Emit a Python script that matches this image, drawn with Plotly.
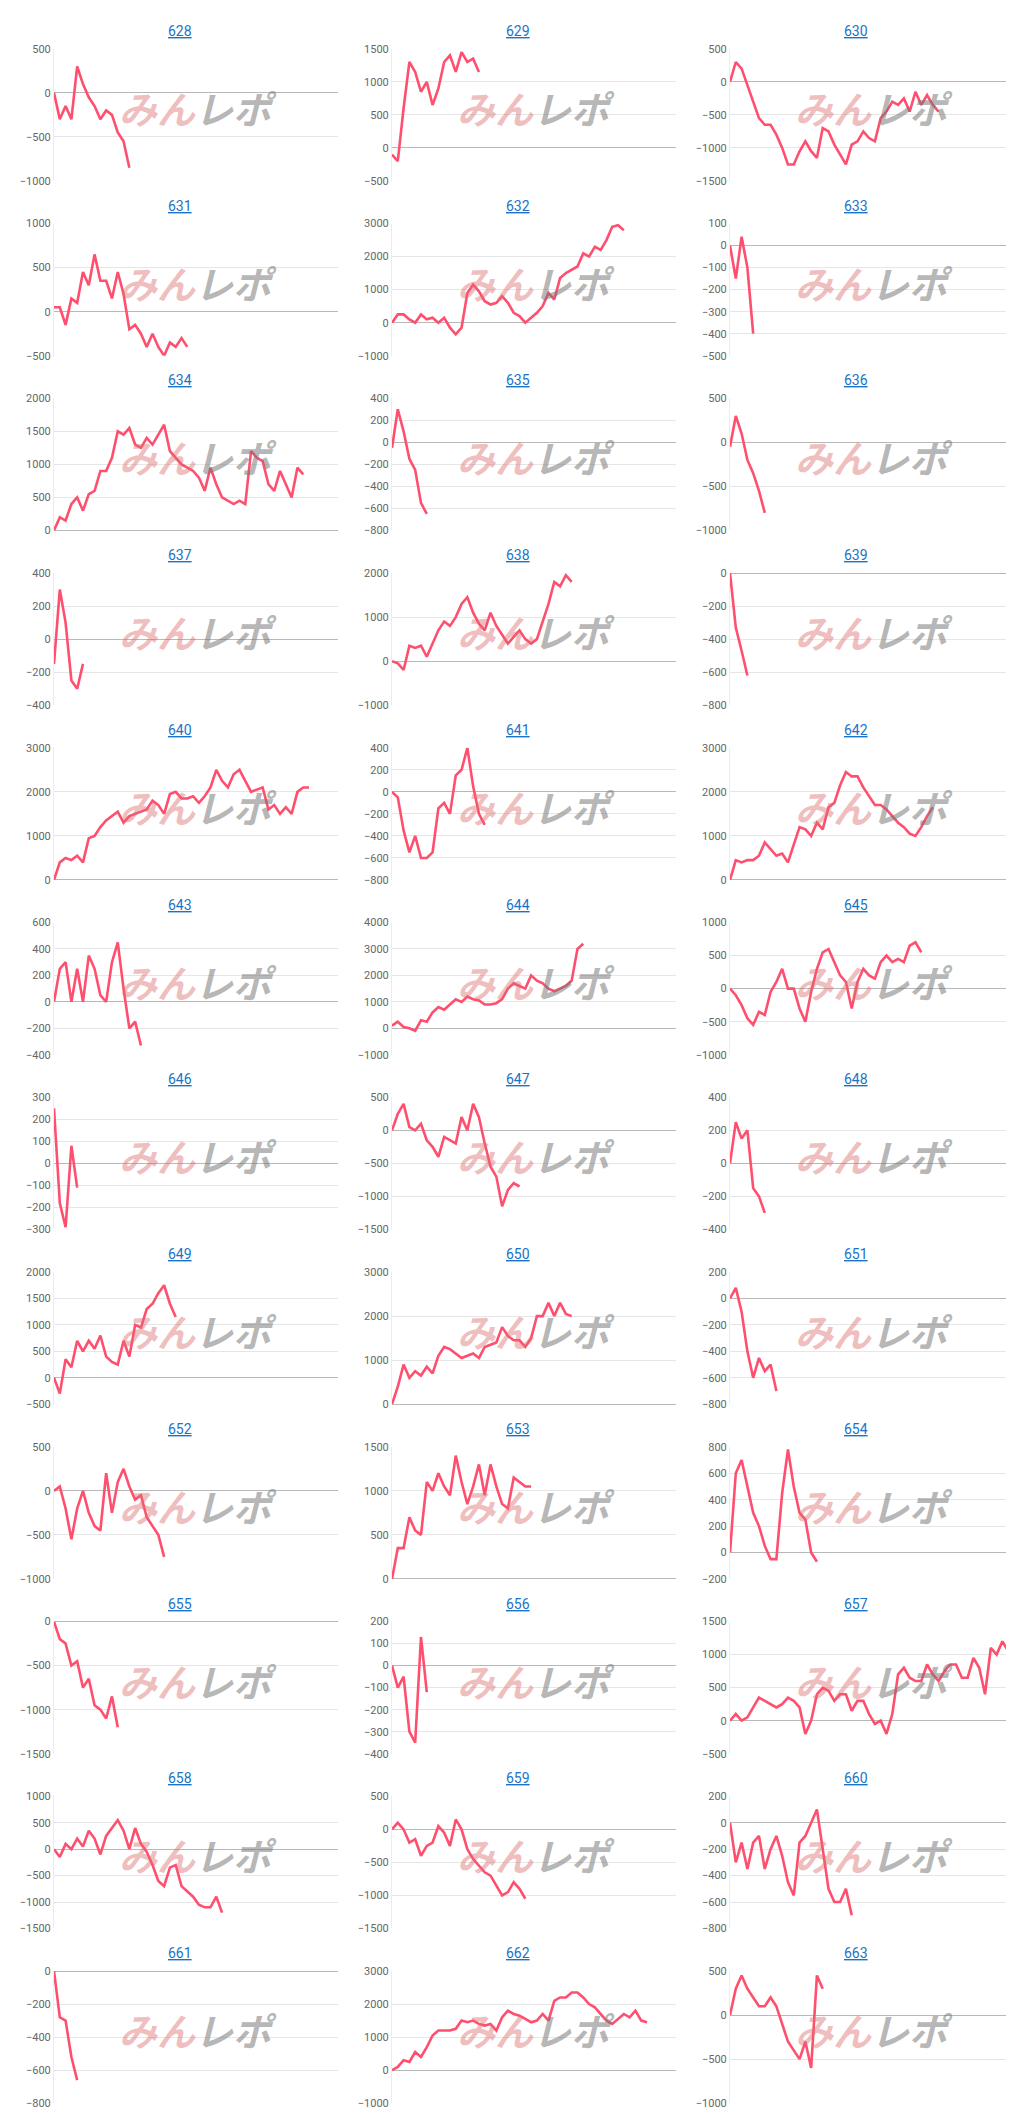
import plotly.graph_objects as go

# panel ids (chart titles)
panel_ids = list(range(628, 664))

# y axis: [min, max, tick step] for each panel
y_axes = [
    [-1000, 500, 500], [-500, 1500, 500], [-1500, 500, 500],
    [-500, 1000, 500], [-1000, 3000, 1000], [-500, 100, 100],
    [0, 2000, 500], [-800, 400, 200], [-1000, 500, 500],
    [-400, 400, 200], [-1000, 2000, 1000], [-800, 0, 200],
    [0, 3000, 1000], [-800, 400, 200], [0, 3000, 1000],
    [-400, 600, 200], [-1000, 4000, 1000], [-1000, 1000, 500],
    [-300, 300, 100], [-1500, 500, 500], [-400, 400, 200],
    [-500, 2000, 500], [0, 3000, 1000], [-800, 200, 200],
    [-1000, 500, 500], [0, 1500, 500], [-200, 800, 200],
    [-1500, 0, 500], [-400, 200, 100], [-500, 1500, 500],
    [-1500, 1000, 500], [-1500, 500, 500], [-800, 200, 200],
    [-800, 0, 200], [-1000, 3000, 1000], [-1000, 500, 500],
]

s628 = [0, -300, -150, -300, 300, 100, -50, -150, -300, -200, -250, -450, -550, -850]
s629 = [-100, -200, 600, 1300, 1150, 850, 1000, 650, 900, 1300, 1400, 1150, 1450, 1300, 1350, 1150]
s630 = [0, 300, 200, -50, -300, -550, -650, -650, -800, -1000, -1250, -1250, -1050, -900, -1050, -1150,
        -700, -750, -950, -1100, -1250, -950, -900, -750, -850, -900, -550, -450, -300, -350, -250, -450,
        -150, -350, -200, -350, -450]
s631 = [50, 50, -150, 150, 100, 450, 300, 650, 350, 350, 150, 450, 200, -200, -150, -250, -400, -250,
        -400, -500, -350, -400, -300, -400]
s632 = [0, 250, 250, 100, 0, 250, 100, 150, 0, 150, -150, -350, -150, 900, 1150, 950, 650, 550, 600, 800,
        600, 300, 200, 0, 150, 300, 500, 900, 700, 1350, 1500, 1600, 1700, 2100, 2000, 2300, 2200, 2500,
        2900, 2950, 2800]
s633 = [0, -150, 40, -100, -400]
s634 = [0, 200, 150, 400, 500, 300, 550, 600, 900, 900, 1100, 1500, 1450, 1550, 1300, 1250, 1400, 1300,
        1450, 1600, 1200, 1100, 1000, 950, 900, 800, 600, 950, 700, 500, 450, 400, 450, 400, 1200, 1100,
        1050, 700, 600, 900, 700, 500, 950, 850]
s635 = [-50, 300, 100, -150, -250, -550, -650]
s636 = [-50, 300, 100, -200, -350, -550, -800]
s637 = [-150, 300, 100, -250, -300, -150]
s638 = [0, -50, -200, 350, 300, 350, 100, 400, 700, 900, 800, 1000, 1300, 1450, 1100, 850, 700, 1100,
        800, 600, 400, 550, 700, 500, 400, 500, 900, 1300, 1800, 1700, 1950, 1800]
s639 = [0, -330, -470, -620]
s640 = [0, 400, 500, 450, 550, 400, 950, 1000, 1200, 1350, 1450, 1550, 1300, 1450, 1500, 1550, 1600,
        1800, 1700, 1500, 1950, 2000, 1850, 1850, 1900, 1750, 1900, 2100, 2500, 2250, 2100, 2400, 2500,
        2250, 2000, 2050, 2100, 1600, 1700, 1500, 1650, 1500, 2000, 2100, 2100]
s641 = [0, -50, -350, -550, -400, -600, -600, -550, -150, -100, -200, 150, 200, 400, 50, -200, -300]
s642 = [0, 450, 400, 450, 450, 550, 850, 700, 550, 600, 400, 800, 1200, 1150, 1000, 1300, 1150, 1650,
        1750, 2150, 2450, 2350, 2350, 2100, 1900, 1700, 1700, 1600, 1450, 1300, 1200, 1050, 1000, 1200,
        1450, 1650]
s643 = [0, 250, 300, 0, 250, 0, 350, 250, 50, 0, 300, 450, 100, -200, -150, -330]
s644 = [100, 250, 50, 0, -100, 300, 250, 600, 800, 700, 900, 1100, 1000, 1200, 1100, 1050, 900, 900,
        950, 1100, 1500, 1700, 1600, 1500, 2000, 1800, 1700, 1500, 1400, 1500, 1600, 1800, 3000, 3200]
s645 = [0, -100, -250, -450, -550, -350, -400, -50, 100, 300, 0, 0, -300, -500, -50, 300, 550, 600, 400,
        200, 100, -300, 100, 300, 200, 150, 400, 500, 400, 450, 400, 650, 700, 550]
s646 = [250, -180, -290, 80, -110]
s647 = [0, 250, 400, 50, 0, 100, -150, -250, -400, -100, -150, -200, 200, 0, 400, 200, -200, -550, -700,
        -1150, -900, -800, -850]
s648 = [0, 250, 150, 200, -150, -200, -300]
s649 = [0, -300, 350, 200, 700, 500, 700, 550, 800, 400, 300, 250, 700, 400, 1000, 950, 1300, 1400, 1600,
        1750, 1400, 1150]
s650 = [0, 400, 900, 600, 750, 650, 850, 700, 1100, 1300, 1250, 1150, 1050, 1100, 1150, 1050, 1300, 1350,
        1400, 1750, 1550, 1450, 1450, 1300, 1500, 2000, 2000, 2300, 2000, 2300, 2050, 2000]
s651 = [0, 80, -100, -400, -600, -450, -550, -500, -700]
s652 = [0, 50, -200, -550, -200, 0, -250, -400, -450, 200, -250, 100, 250, 50, -100, -50, -300, -400, -500,
        -750]
s653 = [0, 350, 350, 700, 550, 500, 1100, 1000, 1200, 1050, 950, 1400, 1100, 850, 1050, 1300, 950, 1300,
        1050, 850, 800, 1150, 1100, 1050, 1050]
s654 = [0, 600, 700, 500, 300, 200, 50, -50, -50, 450, 780, 500, 300, 250, 0, -70]
s655 = [0, -200, -250, -500, -450, -750, -650, -950, -1000, -1100, -850, -1200]
s656 = [0, -100, -50, -300, -350, 130, -120]
s657 = [0, 100, 0, 50, 200, 350, 300, 250, 200, 250, 350, 300, 200, -200, 0, 400, 500, 450, 300, 400, 400,
        150, 300, 300, 100, -50, 0, -200, 100, 700, 800, 650, 600, 600, 850, 700, 600, 750, 850, 850, 650,
        650, 950, 800, 400, 1100, 1000, 1200, 1050, 1000]
s658 = [0, -150, 100, 0, 200, 50, 350, 200, -100, 250, 400, 550, 350, 0, 400, 100, -50, -300, -600, -700,
        -350, -300, -700, -800, -900, -1050, -1100, -1100, -900, -1200]
s659 = [0, 100, 0, -200, -150, -400, -250, -200, 50, -50, -250, 150, 0, -300, -450, -550, -650, -700, -850,
        -1000, -950, -800, -900, -1050]
s660 = [0, -300, -150, -350, -150, -100, -350, -200, -100, -250, -450, -550, -150, -100, 0, 100, -200, -500,
        -600, -600, -500, -700]
s661 = [0, -280, -300, -520, -660]
s662 = [0, 100, 300, 250, 550, 400, 700, 1050, 1200, 1200, 1200, 1250, 1500, 1450, 1500, 1400, 1350, 1400,
        1200, 1600, 1800, 1700, 1650, 1550, 1450, 1500, 1700, 1500, 2100, 2200, 2200, 2350, 2350, 2200,
        2000, 1900, 1700, 1500, 1400, 1550, 1700, 1600, 1800, 1500, 1450]
s663 = [0, 300, 450, 300, 200, 100, 100, 200, 100, -100, -300, -400, -500, -300, -600, 450, 300]

series = [s628, s629, s630, s631, s632, s633, s634, s635, s636, s637, s638, s639,
          s640, s641, s642, s643, s644, s645, s646, s647, s648, s649, s650, s651,
          s652, s653, s654, s655, s656, s657, s658, s659, s660, s661, s662, s663]

W, H = 1014, 2110
COL_W = W / 3
ROW_H = H / 12
LINE = "#ff4f6e"

fig = go.Figure()
annotations = []
for i, (pid, vals, (ymin, ymax, step)) in enumerate(zip(panel_ids, series, y_axes)):
    r, c = divmod(i, 3)
    n = i + 1
    xa = "x" if n == 1 else f"x{n}"
    ya = "y" if n == 1 else f"y{n}"
    x0 = c * COL_W + 46
    x1 = c * COL_W + 330
    top = r * ROW_H + 35
    bot = r * ROW_H + 168

    fig.add_trace(go.Scatter(x=list(range(len(vals))), y=vals, mode="lines",
                             line=dict(color=LINE, width=2.6), xaxis=xa, yaxis=ya,
                             showlegend=False, hoverinfo="skip"))

    fig.layout[f"xaxis{'' if n == 1 else n}"] = dict(
        domain=[x0 / W, x1 / W], range=[0, 49], showgrid=False, zeroline=False,
        showticklabels=False, ticks="", anchor=ya)
    fig.layout[f"yaxis{'' if n == 1 else n}"] = dict(
        domain=[1 - bot / H, 1 - top / H], range=[ymin, ymax], dtick=step, tick0=0,
        tickformat="d", showgrid=True, gridcolor="#e6e6e6", gridwidth=1.3,
        zeroline=True, zerolinecolor="#b8b8b8", zerolinewidth=1.3,
        showline=True, linecolor="#ececec", linewidth=1, ticks="",
        tickfont=dict(family="Roboto, Arial", size=11, color="#666666"), anchor=xa)

    # title link
    annotations.append(dict(
        x=(c * COL_W + 172) / W, y=1 - (r * ROW_H + 17) / H, xref="paper", yref="paper",
        xanchor="center", yanchor="middle",
        text=f"<u>{pid}</u>", showarrow=False,
        font=dict(family="Roboto, Arial", size=14, color="#1a73c8")))
    # watermark
    annotations.append(dict(
        x=(c * COL_W + 190) / W, y=1 - (r * ROW_H + 94) / H, xref="paper", yref="paper",
        xanchor="center", yanchor="middle",
        text="<b><i><span style='color:rgba(220,110,110,0.45)'>みん</span>"
             "<span style='color:rgba(120,120,120,0.55)'>レポ</span></i></b>",
        showarrow=False, font=dict(family="Noto Sans CJK JP", size=38)))

fig.update_layout(width=W, height=H, margin=dict(l=0, r=0, t=0, b=0),
                  paper_bgcolor="white", plot_bgcolor="white", annotations=annotations)

fig.write_html("out.html")
